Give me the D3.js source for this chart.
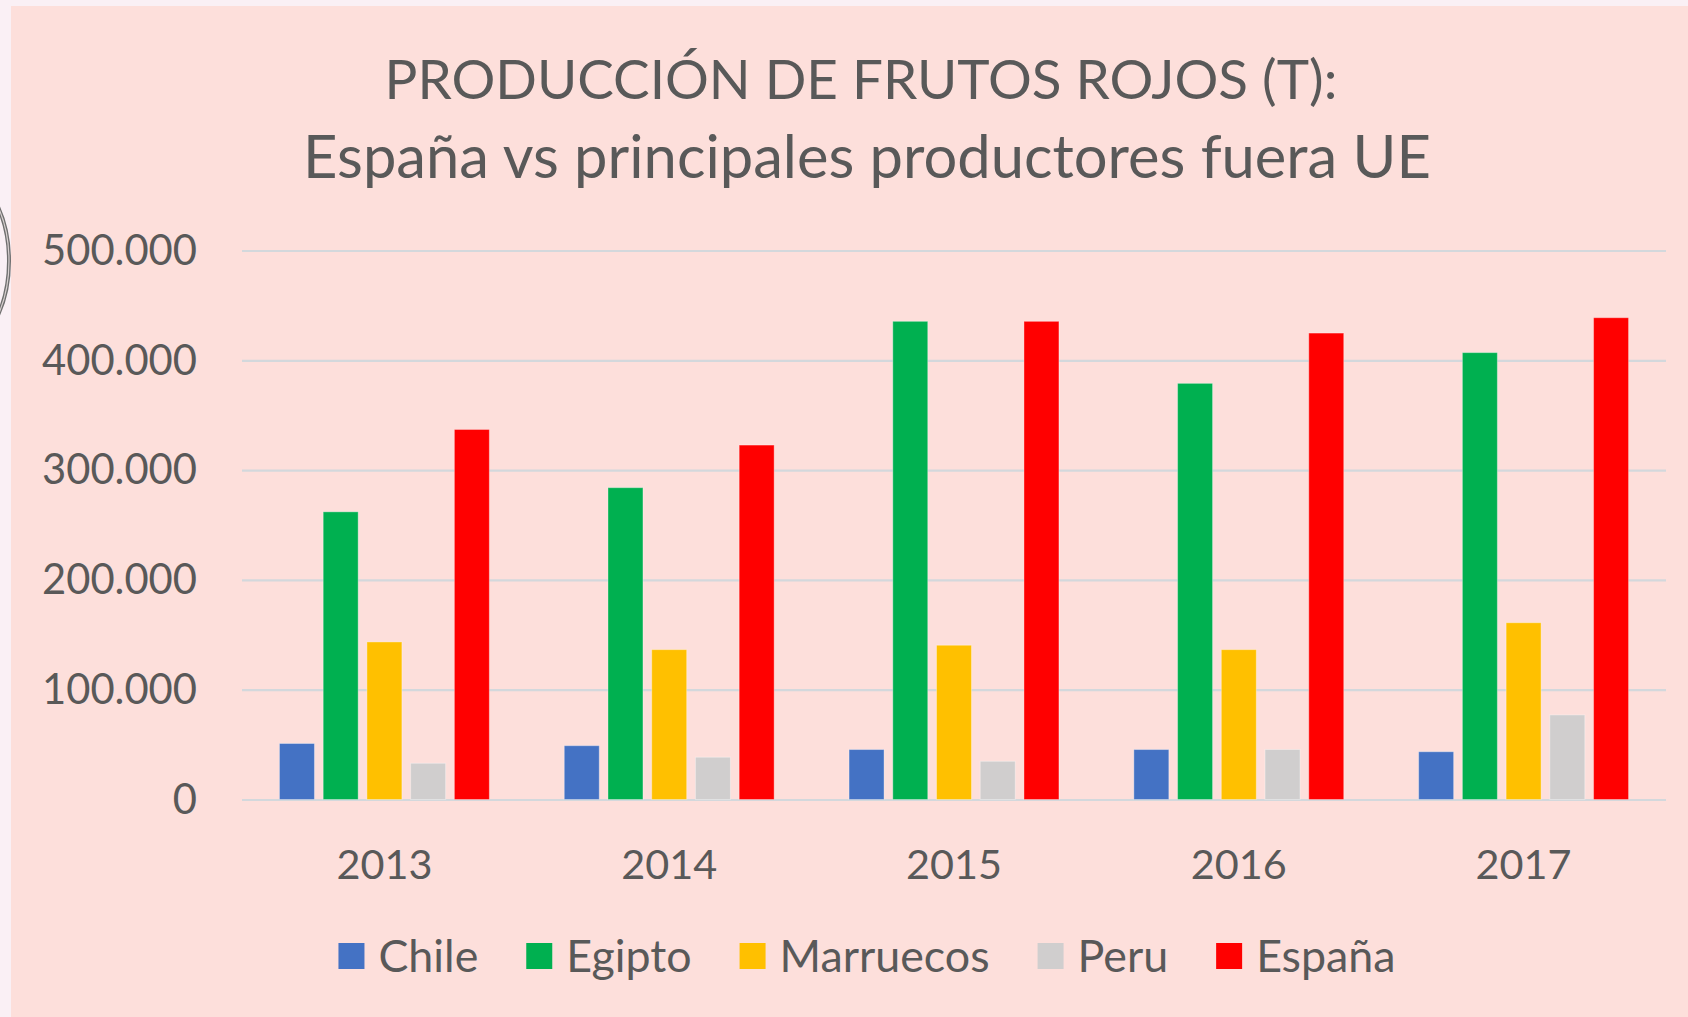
<!DOCTYPE html>
<html>
<head>
<meta charset="utf-8">
<script src="https://cdn.jsdelivr.net/npm/d3@7"></script>
<style>
  html, body { margin: 0; padding: 0; background: #FAF0F5; }
  svg { display: block; }
  text { font-family: Lato, "Open Sans", sans-serif; fill: #595959; }
</style>
</head>
<body>
<svg id="chart" width="1688" height="1017"></svg>
<script>
const years = ["2013", "2014", "2015", "2016", "2017"];
const seriesNames = ["Chile", "Egipto", "Marruecos", "Peru", "España"];
const seriesColors = ["#4472C4", "#00B050", "#FFC000", "#D0CECE", "#FF0000"];
const chile = [51000, 49000, 45500, 45500, 43500];
const egipto = [262000, 284000, 435500, 379000, 407000];
const marruecos = [143500, 136500, 140500, 136500, 161000];
const peru = [33000, 38500, 34800, 45500, 77000];
const espana = [337000, 322800, 435500, 424800, 438800];
const yTicks = [0, 100000, 200000, 300000, 400000, 500000];
const titleLines = ["PRODUCCIÓN DE FRUTOS ROJOS (T):", "España vs principales productores fuera UE"];

const seriesValues = [chile, egipto, marruecos, peru, espana];
const rows = years.map((yr, i) => ({ year: yr, values: seriesNames.map((s, j) => ({ name: s, value: seriesValues[j][i], color: seriesColors[j] })) }));

const svg = d3.select("#chart");
const W = 1688, H = 1017;
const plot = { left: 242, right: 1666, top: 250.5, bottom: 799.5 };

// backgrounds
svg.append("rect").attr("x", 0).attr("y", 0).attr("width", W).attr("height", H).attr("fill", "#FAF0F5");
svg.append("rect").attr("x", 11).attr("y", 6).attr("width", W - 11).attr("height", H - 6).attr("fill", "#FDDFDB");
// partial ring at left edge
svg.append("ellipse").attr("cx", -61).attr("cy", 261).attr("rx", 70).attr("ry", 100)
  .attr("fill", "none").attr("stroke", "#6f6f6f").attr("stroke-width", 4);
svg.append("ellipse").attr("cx", -61).attr("cy", 261).attr("rx", 70).attr("ry", 100)
  .attr("fill", "none").attr("stroke", "#d8d0d0").attr("stroke-width", 1.2);

// helper: fit font size so text width matches target
function fitSize(str, target, base) {
  const t = svg.append("text").attr("font-size", base).text(str);
  const w = t.node().getComputedTextLength();
  t.remove();
  return base * target / w;
}

const x = d3.scaleBand().domain(years).range([plot.left, plot.right]).paddingInner(0.263).paddingOuter(0.1315);
const xs = d3.scaleBand().domain(seriesNames).range([0, x.bandwidth()]).paddingInner(0.2);
const y = d3.scaleLinear().domain([0, 500000]).range([plot.bottom, plot.top]);

const loc = d3.formatLocale({ decimal: ",", thousands: ".", grouping: [3], currency: ["", "€"] });
const fmt = loc.format(",.0f");

// y axis with gridlines
const ySize = fitSize("500.000", 155, 40);
const yAxis = svg.append("g").attr("transform", `translate(${plot.left},0)`)
  .call(d3.axisLeft(y).tickValues(yTicks).tickFormat(fmt).tickSize(-(plot.right - plot.left)).tickPadding(45));
yAxis.select(".domain").remove();
yAxis.selectAll(".tick line").attr("stroke", "#D3D8DC").attr("stroke-width", 2.2);
yAxis.selectAll(".tick text").attr("font-size", ySize).attr("fill", "#595959").attr("font-family", "Lato, sans-serif").attr("dy", "0.33em");

// bars
const groups = svg.append("g").selectAll("g").data(rows).join("g")
  .attr("transform", d => `translate(${x(d.year)},0)`);
groups.selectAll("rect").data(d => d.values).join("rect")
  .attr("x", d => xs(d.name))
  .attr("width", xs.bandwidth())
  .attr("y", d => y(d.value))
  .attr("height", d => y(0) - y(d.value))
  .attr("fill", d => d.color)
  .attr("stroke", "#ffffff").attr("stroke-opacity", 0.35).attr("stroke-width", 1);

// x axis
const xSize = fitSize("2013", 96, 40);
const xAxis = svg.append("g").attr("transform", `translate(0,${plot.bottom})`)
  .call(d3.axisBottom(x).tickSize(0).tickPadding(50));
xAxis.select(".domain").remove();
xAxis.selectAll(".tick text").attr("font-size", xSize).attr("fill", "#595959").attr("font-family", "Lato, sans-serif");

// title
const titleCx = 863;
const t1 = fitSize(titleLines[0], 953, 50);
const t2 = fitSize(titleLines[1], 1128, 50);
svg.append("text").attr("x", titleCx - 2).attr("y", 99).attr("text-anchor", "middle").attr("font-size", t1).text(titleLines[0]);
svg.append("text").attr("x", titleCx + 4).attr("y", 178).attr("text-anchor", "middle").attr("font-size", t2).text(titleLines[1]);

// legend
const lgSize = fitSize("Marruecos", 210, 40);
const legend = svg.append("g");
const sq = 26, gapText = 14, gapItem = 48;
let cx = 0;
seriesNames.forEach((s, i) => {
  const g = legend.append("g").attr("transform", `translate(${cx},0)`);
  g.append("rect").attr("x", 0).attr("y", -sq / 2).attr("width", sq).attr("height", sq).attr("fill", seriesColors[i]);
  const tx = g.append("text").attr("x", sq + gapText).attr("y", 0).attr("dy", "0.36em").attr("font-size", lgSize).text(s);
  const w = tx.node().getComputedTextLength();
  cx += sq + gapText + w + gapItem;
});
const totalW = cx - gapItem;
legend.attr("transform", `translate(${867 - totalW / 2},956)`);
</script>
</body>
</html>
